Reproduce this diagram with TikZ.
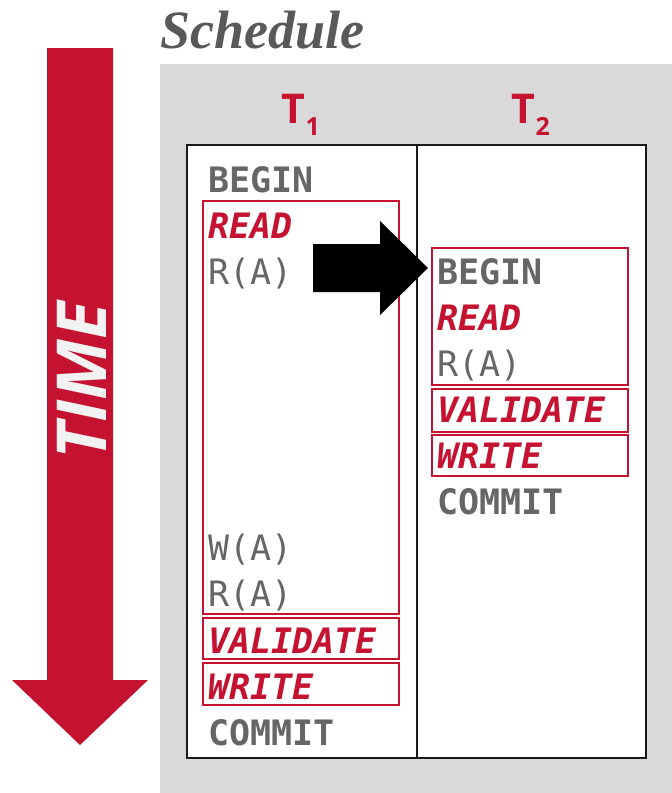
\documentclass[tikz,border=0pt]{standalone}
\usepackage{fontspec}
\setmainfont{Liberation Serif}
\newfontfamily\headfont{Open Sans}
\newfontfamily\codefont{DejaVu Sans Mono}
\usetikzlibrary{positioning}
\definecolor{occred}{HTML}{C41230}
\definecolor{occgray}{HTML}{666666}
\definecolor{occback}{HTML}{D9D9D9}
\newcommand*\rowy[1]{192+46.1*#1}
\tikzset{occ/.cd,
         op/.style={anchor=base west,inner sep=0pt,text=occgray,
                    font=\codefont\fontsize{35}{35}\selectfont},
         opbold/.style={occ/op,font=\codefont\bfseries\fontsize{35}{35}\selectfont},
         phase/.style={occ/op,text=occred,
                       font=\codefont\bfseries\itshape\fontsize{35}{35}\selectfont},
         phasebox/.style={draw=occred,line width=1.5pt},
         txn/.style={anchor=base,inner sep=0pt,text=occred,
                     font=\headfont\bfseries\fontsize{41}{41}\selectfont}}
\begin{document}
\begin{tikzpicture}[x=1pt,y=-1pt]
\useasboundingbox (0,0) rectangle (672,793);
\fill[occback] (160,64) rectangle (672,793);
% time arrow
\fill[occred] (47,48) -- (113,48) -- (113,680) -- (148,680) -- (80,745)
              -- (12,680) -- (47,680) -- cycle;
\node[rotate=90,text=white!95!black,
      font=\headfont\bfseries\itshape\fontsize{69}{69}\selectfont] (time) at (82,381) {TIME};
\node[anchor=base west,inner sep=0pt,text=black!65,
      font=\bfseries\itshape\fontsize{54}{54}\selectfont] (title) at (160,48) {Schedule};
% table
\draw[fill=white,draw=black!90,line width=2pt] (187,145) rectangle (646,758);
\draw[draw=black!90,line width=2pt] (417,145) -- (417,758);
\node[occ/txn] (t1) at (301,123) {T\raisebox{-12pt}{\fontsize{25}{25}\selectfont 1}};
\node[occ/txn] (t2) at (531,123) {T\raisebox{-12pt}{\fontsize{25}{25}\selectfont 2}};
% phase boxes
\draw[occ/phasebox] (203,201) rectangle (399,614);
\draw[occ/phasebox] (203,618) rectangle (399,659);
\draw[occ/phasebox] (203,663) rectangle (399,705);
\draw[occ/phasebox] (432,248) rectangle (628,385);
\draw[occ/phasebox] (432,389) rectangle (628,432);
\draw[occ/phasebox] (432,435) rectangle (628,476);
% operations
\foreach \k/\txt/\type in {0/BEGIN/opbold,1/READ/phase,2/R(A)/op,8/W(A)/op,
                           9/R(A)/op,10/VALIDATE/phase,11/WRITE/phase,12/COMMIT/opbold}
  \node[occ/\type] (a\k) at (208,\rowy{\k}) {\txt};
\foreach \k/\txt/\type in {2/BEGIN/opbold,3/READ/phase,4/R(A)/op,
                           5/VALIDATE/phase,6/WRITE/phase,7/COMMIT/opbold}
  \node[occ/\type] (b\k) at (437,\rowy{\k}) {\txt};
% switch arrow
\fill[black] (313,244) -- (380,244) -- (380,221) -- (428,268) -- (380,315)
             -- (380,292) -- (313,292) -- cycle;
\end{tikzpicture}
\end{document}
